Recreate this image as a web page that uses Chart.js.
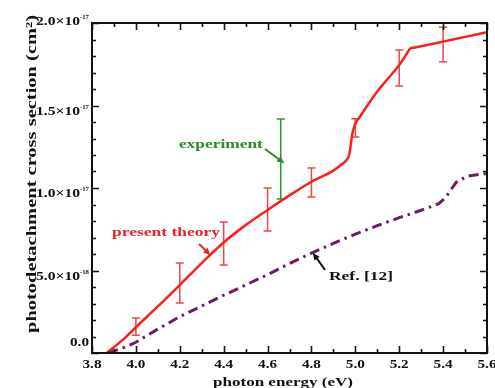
<!DOCTYPE html>
<html><head><meta charset="utf-8">
<script src="https://cdn.jsdelivr.net/npm/chart.js@4/dist/chart.umd.min.js"></script>
<style>html,body{margin:0;padding:0;background:#fff;overflow:hidden}#wrap{width:495px;height:388px;position:relative}</style>
</head><body><div id="wrap"><canvas id="c" width="495" height="388"></canvas></div>
<script>
// ---- data (y values in units of 1e-18 cm^2) ----
const X_MIN = 3.8, X_MAX = 5.6, Y_MIN = 0, Y_MAX = 20;
const xMajorTicks = [3.8, 4.0, 4.2, 4.4, 4.6, 4.8, 5.0, 5.2, 5.4, 5.6];
const xTickLabels = ['3.8', '4.0', '4.2', '4.4', '4.6', '4.8', '5.0', '5.2', '5.4', '5.6'];
const yMajorTicks = [0, 5, 10, 15, 20];
const yTickMantissa = ['0.0', '5.0\u00d710', '1.0\u00d710', '1.5\u00d710', '2.0\u00d710'];
const yTickExponent = ['', '-18', '-17', '-17', '-17'];

const theoryEnergy = [3.867, 3.9, 3.95, 4.0, 4.1, 4.2, 4.3, 4.4, 4.5, 4.6, 4.7, 4.8, 4.9, 4.94, 4.96, 4.972, 4.978, 4.984, 4.99, 5.0, 5.02, 5.05, 5.1, 5.15, 5.2, 5.235, 5.25, 5.265, 5.3, 5.4, 5.5, 5.6];
const theorySigma  = [0, 0.35, 0.92, 1.56, 2.82, 4.12, 5.45, 6.7, 7.75, 8.67, 9.55, 10.38, 11.05, 11.45, 11.7, 12.0, 12.5, 13.1, 13.5, 13.9, 14.3, 14.9, 15.85, 16.65, 17.45, 18.15, 18.45, 18.5, 18.59, 18.87, 19.16, 19.44];

const refEnergy = [3.875, 3.95, 4.0, 4.1, 4.2, 4.3, 4.4, 4.5, 4.6, 4.7, 4.8, 4.9, 5.0, 5.1, 5.2, 5.3, 5.38, 5.41, 5.46, 5.51, 5.6];
const refSigma  = [0, 0.35, 0.65, 1.45, 2.2, 2.85, 3.5, 4.12, 4.75, 5.42, 6.05, 6.65, 7.2, 7.72, 8.2, 8.65, 9.05, 9.4, 10.35, 10.72, 10.88];

const theoryErrEnergy = [4.0, 4.2, 4.4, 4.6, 4.8, 5.0, 5.2, 5.4];
const theoryErrCenter = [1.60, 4.24, 6.64, 8.70, 10.33, 13.64, 17.27, 18.70];
const theoryErrHalf   = [0.52, 1.21, 1.30, 1.30, 0.88, 0.55, 1.09, 1.05];

const expEnergy = [4.66];
const expCenter = [11.76];
const expHalf   = [2.42];

// annotation anchors in data coordinates
const annotations = [
  {text: 'experiment', x: 4.196, y: 12.6, w: 84, color: '#2a8c2a', from: [4.588, 12.36], to: [4.677, 11.5]},
  {text: 'present theory', x: 3.891, y: 7.27, w: 108, color: '#e8262a', from: [4.288, 6.61], to: [4.340, 5.92]},
  {text: 'Ref. [12]', x: 4.880, y: 4.61, w: 64, color: '#111111', from: [4.862, 5.03], to: [4.806, 6.08]}
];

const FONT = '"Liberation Serif", "Times New Roman", serif';

function pts(xs, ys) { return xs.map((x, i) => ({x: x, y: ys[i]})); }

// draws bold text scaled horizontally to a target width
function drawFit(ctx, s, x, y, size, color, align, targetW, baseline) {
  ctx.save();
  ctx.font = 'bold ' + size + 'px ' + FONT;
  ctx.fillStyle = color;
  ctx.textBaseline = baseline || 'alphabetic';
  const mw = ctx.measureText(s).width;
  const sx = targetW / mw;
  let x0 = x;
  if (align === 'center') x0 = x - targetW / 2; else if (align === 'right') x0 = x - targetW;
  ctx.translate(x0, y);
  ctx.scale(sx, 1);
  ctx.textAlign = 'left';
  ctx.fillText(s, 0, 0);
  ctx.restore();
}

function arrow(ctx, x1, y1, x2, y2, color, head) {
  const ang = Math.atan2(y2 - y1, x2 - x1);
  ctx.save();
  ctx.strokeStyle = color; ctx.fillStyle = color; ctx.lineWidth = 2;
  ctx.beginPath(); ctx.moveTo(x1, y1);
  ctx.lineTo(x2 - Math.cos(ang) * head * 0.8, y2 - Math.sin(ang) * head * 0.8);
  ctx.stroke();
  ctx.beginPath();
  ctx.moveTo(x2, y2);
  ctx.lineTo(x2 - head * Math.cos(ang - 0.42), y2 - head * Math.sin(ang - 0.42));
  ctx.lineTo(x2 - head * Math.cos(ang + 0.42), y2 - head * Math.sin(ang + 0.42));
  ctx.closePath(); ctx.fill();
  ctx.restore();
}

const decor = {
  id: 'decor',
  beforeDatasetsDraw(chart) {
    const ctx = chart.ctx, xs = chart.scales.x, ys = chart.scales.y;
    function bars(ex, ec, eh, color) {
      ctx.save(); ctx.strokeStyle = color; ctx.lineWidth = 1.5;
      ex.forEach((x, i) => {
        const px = xs.getPixelForValue(x);
        const t = ys.getPixelForValue(ec[i] + eh[i]);
        const b = ys.getPixelForValue(ec[i] - eh[i]);
        ctx.beginPath();
        ctx.moveTo(px, t); ctx.lineTo(px, b);
        ctx.moveTo(px - 4, t); ctx.lineTo(px + 4, t);
        ctx.moveTo(px - 4, b); ctx.lineTo(px + 4, b);
        ctx.stroke();
      });
      ctx.restore();
    }
    bars(theoryErrEnergy, theoryErrCenter, theoryErrHalf, '#e8474b');
    bars(expEnergy, expCenter, expHalf, '#2b962b');
  },
  afterDraw(chart) {
    const ctx = chart.ctx, xs = chart.scales.x, ys = chart.scales.y, a = chart.chartArea;
    // frame
    ctx.save();
    ctx.strokeStyle = '#111'; ctx.lineWidth = 2;
    ctx.strokeRect(a.left, a.top, a.right - a.left, a.bottom - a.top);
    // inward ticks
    ctx.lineWidth = 1.6;
    ctx.beginPath();
    for (let k = 0; k <= 18; k++) {
      const v = X_MIN + k * 0.1;
      const px = Math.round(xs.getPixelForValue(v)) + 0.5;
      const L = (k % 2 === 0) ? 7 : 4;
      ctx.moveTo(px, a.bottom); ctx.lineTo(px, a.bottom - L);
      ctx.moveTo(px, a.top); ctx.lineTo(px, a.top + L);
    }
    for (let k = 0; k <= 20; k++) {
      const py = Math.round(ys.getPixelForValue(k)) + 0.5;
      const L = (k % 5 === 0) ? 7 : 4;
      ctx.moveTo(a.left, py); ctx.lineTo(a.left + L, py);
      ctx.moveTo(a.right, py); ctx.lineTo(a.right - L, py);
    }
    ctx.stroke();
    ctx.restore();

    // x tick labels
    xMajorTicks.forEach((v, i) => {
      drawFit(ctx, xTickLabels[i], xs.getPixelForValue(v), a.bottom + 15, 12, '#111', 'center', 19);
    });
    // y tick labels with superscript exponents
    yMajorTicks.forEach((v, i) => {
      const py = ys.getPixelForValue(v);
      let base = py + 9;
      if (i === 0) base = py - 7;
      if (i === yMajorTicks.length - 1) base = py + 2;
      const right = a.left - 3;
      if (yTickExponent[i]) {
        drawFit(ctx, yTickExponent[i], right, base - 6, 7, '#111', 'right', 9);
        drawFit(ctx, yTickMantissa[i], right - 9, base, 12, '#111', 'right', 44);
      } else {
        drawFit(ctx, yTickMantissa[i], right, base, 12, '#111', 'right', 19);
      }
    });

    // axis titles
    drawFit(ctx, 'photon energy (eV)', 283, 386, 13, '#111', 'center', 140);
    ctx.save();
    ctx.translate(32, 174);
    ctx.rotate(-Math.PI / 2);
    ctx.font = 'bold 14px ' + FONT;
    const title = 'photodetachment cross section (cm\u00b2)';
    const w = ctx.measureText(title).width;
    ctx.scale(318 / w, 1.05);
    ctx.fillStyle = '#111';
    ctx.textAlign = 'center'; ctx.textBaseline = 'middle';
    ctx.fillText(title, 0, 0);
    ctx.restore();

    // annotations
    annotations.forEach(an => {
      drawFit(ctx, an.text, xs.getPixelForValue(an.x), ys.getPixelForValue(an.y), 13, an.color, 'left', an.w, 'middle');
      arrow(ctx, xs.getPixelForValue(an.from[0]), ys.getPixelForValue(an.from[1]),
                 xs.getPixelForValue(an.to[0]), ys.getPixelForValue(an.to[1]), an.color, 8);
    });
  }
};

new Chart(document.getElementById('c'), {
  type: 'scatter',
  data: {
    datasets: [
      {data: pts(refEnergy, refSigma), showLine: true, borderColor: '#6a1f63', borderWidth: 3,
       borderDash: [10, 5, 2.5, 5], pointRadius: 0, tension: 0, fill: false},
      {data: pts(theoryEnergy, theorySigma), showLine: true, borderColor: '#ff1e1e', borderWidth: 2.5,
       pointRadius: 0, cubicInterpolationMode: 'monotone', fill: false}
    ]
  },
  options: {
    responsive: false, animation: false,
    layout: {padding: {left: 92, right: 8, top: 23, bottom: 35}},
    plugins: {legend: {display: false}, tooltip: {enabled: false}},
    scales: {
      x: {type: 'linear', min: X_MIN, max: X_MAX, display: false},
      y: {type: 'linear', min: Y_MIN, max: Y_MAX, display: false}
    }
  },
  plugins: [decor]
});
</script>
</body></html>
